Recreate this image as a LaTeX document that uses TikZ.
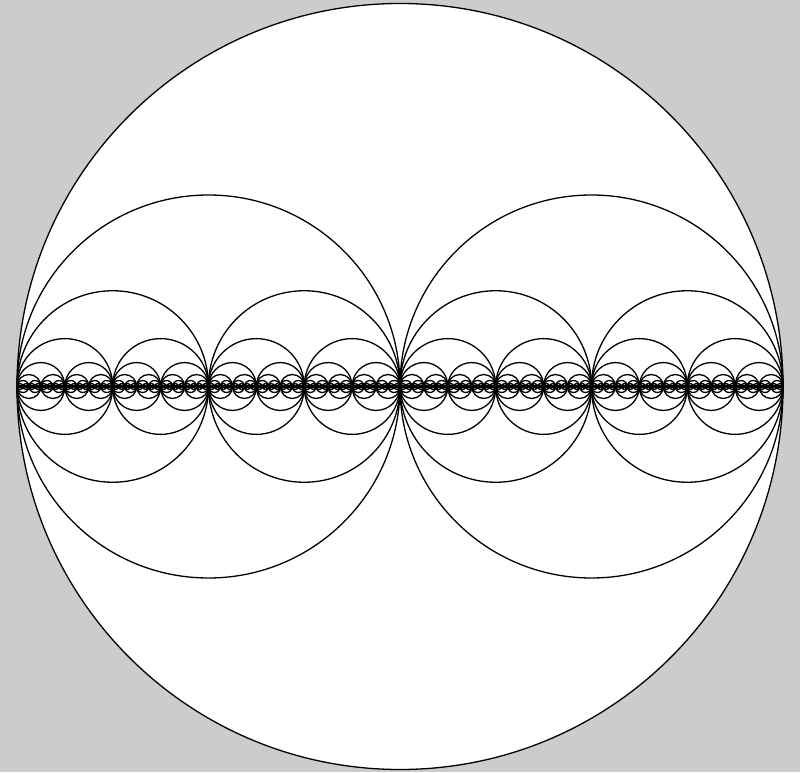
\documentclass[tikz,border=0pt]{standalone}
\begin{document}
\begin{tikzpicture}[x=1pt,y=1pt,
  ring/.style={draw=black,line width=1.3pt}]
\definecolor{bggray}{RGB}{204,204,204}
\fill[bggray] (0,0) rectangle (800,772);
\useasboundingbox (0,0) rectangle (800,772);
\coordinate (c) at (400,385.5);
\fill[white] (c) circle (383);
\draw[ring] (c) circle (383);
\foreach \k in {1,...,9} {
  \pgfmathtruncatemacro\n{2^\k-1}
  \pgfmathsetmacro\r{383/2^\k}
  \foreach \i in {0,...,\n} {
    \pgfmathsetmacro\cx{17+\r*(2*\i+1)}
    \draw[ring] (\cx,385.5) circle (\r);
  }
}
\end{tikzpicture}
\end{document}
